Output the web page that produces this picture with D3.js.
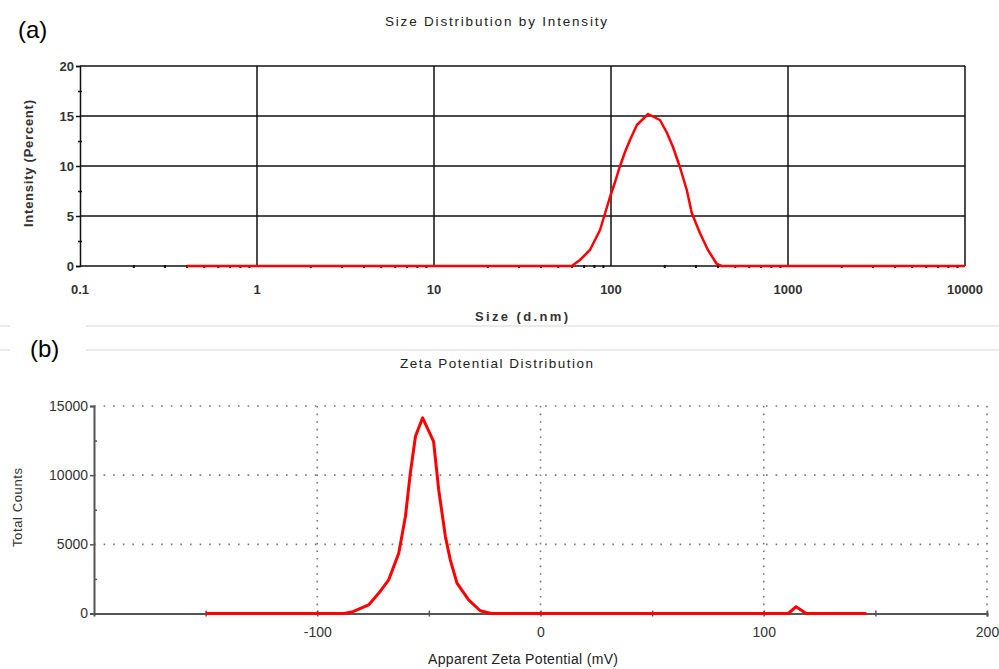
<!DOCTYPE html>
<html>
<head>
<meta charset="utf-8">
<script src="https://cdn.jsdelivr.net/npm/d3@7"></script>
<style>
  body { margin: 0; background: #fff; }
  svg { display: block; }
</style>
</head>
<body>
<div id="display"></div>
<script>
"use strict";

const width = 999;
const height = 669;

// (a) size distribution by intensity
const sizeNm = [0.4, 1, 10, 50, 60, 66.8, 76, 86.7, 98.7, 105, 112, 120, 128, 140, 162, 189, 206, 224, 245, 268, 286, 318, 353, 396, 422, 1000, 10000];
const intensityPct = [0, 0, 0, 0, 0, 0.6, 1.6, 3.6, 6.9, 8.3, 9.9, 11.4, 12.6, 14.1, 15.2, 14.6, 13.4, 11.9, 9.9, 7.6, 5.3, 3.3, 1.6, 0.2, 0, 0, 0];
const sizeTicks = [0.1, 1, 10, 100, 1000, 10000];
const intensityTicks = [0, 5, 10, 15, 20];

// (b) zeta potential distribution
const zetaMv = [-150, -88, -84, -77, -72.5, -68, -63.5, -60.5, -58.3, -56, -52.8, -47.9, -45.6, -42.6, -40.4, -37.4, -32.2, -27, -22, 111, 114.5, 119, 146];
const totalCounts = [0, 0, 130, 616, 1460, 2430, 4360, 7010, 10160, 12810, 14140, 12450, 8950, 5560, 3880, 2190, 980, 200, 0, 0, 490, 0, 0];
const zetaTicks = [-100, 0, 100, 200];
const countTicks = [0, 5000, 10000, 15000];

const svg = d3.select("#display").append("svg")
  .attr("width", width)
  .attr("height", height)
  .style("font-family", "Liberation Sans, Arial, sans-serif");

// faint separators between the two pictures
[326, 350].forEach(function(y) {
  [[0, 10], [86, width]].forEach(function(seg) {
    svg.append("line")
      .attr("x1", seg[0]).attr("x2", seg[1])
      .attr("y1", y).attr("y2", y)
      .attr("stroke", "#e4e4e4")
      .attr("stroke-width", 1.5);
  });
});

/* ---------- panel (a) ---------- */

const xa = d3.scaleLog().domain([0.1, 10000]).range([80, 965]);
const ya = d3.scaleLinear().domain([0, 20]).range([266, 66]);

const pa = svg.append("g");

svg.append("text")
  .attr("x", 18).attr("y", 38)
  .style("font-size", "24px")
  .text("(a)");

pa.append("text")
  .attr("x", 385).attr("y", 26)
  .attr("textLength", 222)
  .style("font-size", "13.5px")
  .attr("fill", "#222")
  .text("Size Distribution by Intensity");

// solid grid
pa.append("g")
  .selectAll("line")
  .data(intensityTicks.slice(1))
  .join("line")
  .attr("x1", xa(0.1)).attr("x2", xa(10000))
  .attr("y1", d => ya(d)).attr("y2", d => ya(d))
  .attr("stroke", "#111").attr("stroke-width", 1.5);

pa.append("g")
  .selectAll("line")
  .data(sizeTicks.slice(1))
  .join("line")
  .attr("x1", d => xa(d)).attr("x2", d => xa(d))
  .attr("y1", ya(0)).attr("y2", ya(20))
  .attr("stroke", "#111").attr("stroke-width", 1.5);

// minor ticks along the size axis (2..9 of every decade)
const minorSizes = [];
for (var e = -1; e < 4; e++) {
  for (var m = 2; m < 10; m++) {
    minorSizes.push(m * Math.pow(10, e));
  }
}

const xAxisA = pa.append("g")
  .attr("transform", "translate(0," + ya(0) + ")")
  .call(d3.axisBottom(xa).tickValues(minorSizes).tickSize(2).tickFormat(""));
xAxisA.select(".domain").remove();
xAxisA.selectAll("line").attr("y1", -1).attr("stroke", "#111").attr("stroke-width", 2);

const yAxisA = pa.append("g")
  .attr("transform", "translate(" + xa(0.1) + ",0)")
  .call(d3.axisLeft(ya).tickValues(d3.range(0, 20.1, 2.5)).tickSize(4)
    .tickFormat(d => d % 5 === 0 ? d : ""));
yAxisA.select(".domain").attr("stroke", "#111").attr("stroke-width", 1.5);
yAxisA.selectAll("line").attr("stroke", "#111").attr("stroke-width", 1.5)
  .attr("x2", d => d % 5 === 0 ? -4 : -2)
  .attr("x1", d => d % 5 === 0 ? 0 : 2);
yAxisA.selectAll("text")
  .attr("x", -6)
  .style("font-size", "13px")
  .style("font-weight", "bold")
  .attr("fill", "#333");

pa.append("line")
  .attr("x1", xa(0.1)).attr("x2", xa(10000))
  .attr("y1", ya(0)).attr("y2", ya(0))
  .attr("stroke", "#111").attr("stroke-width", 1.5);

pa.append("g")
  .selectAll("text")
  .data(sizeTicks)
  .join("text")
  .attr("x", d => xa(d)).attr("y", 294)
  .attr("text-anchor", "middle")
  .style("font-size", "13px")
  .style("font-weight", "bold")
  .attr("fill", "#333")
  .text(d => d < 1 ? "0.1" : d3.format("d")(d));

pa.append("text")
  .attr("x", 475).attr("y", 321)
  .attr("textLength", 93)
  .style("font-size", "13px")
  .style("font-weight", "bold")
  .attr("fill", "#333")
  .text("Size (d.nm)");

pa.append("text")
  .attr("transform", "translate(33,227) rotate(-90)")
  .attr("textLength", 127)
  .style("font-size", "13px")
  .style("font-weight", "bold")
  .attr("fill", "#333")
  .text("Intensity (Percent)");

const lineA = d3.line()
  .x((d, i) => xa(sizeNm[i]))
  .y(d => ya(d));

pa.append("path")
  .datum(intensityPct)
  .attr("d", lineA)
  .attr("fill", "none")
  .attr("stroke", "#ff0000")
  .attr("stroke-width", 2.5)
  .attr("stroke-linejoin", "round");

/* ---------- panel (b) ---------- */

const xb = d3.scaleLinear().domain([-200, 200]).range([94, 987]);
const yb = d3.scaleLinear().domain([0, 15000]).range([613.5, 406]);

const pb = svg.append("g");

svg.append("text")
  .attr("x", 30).attr("y", 357)
  .style("font-size", "24px")
  .text("(b)");

pb.append("text")
  .attr("x", 400).attr("y", 368)
  .attr("textLength", 193)
  .style("font-size", "13.5px")
  .attr("fill", "#222")
  .text("Zeta Potential Distribution");

// dotted grid
pb.append("g")
  .selectAll("line")
  .data(countTicks.slice(1))
  .join("line")
  .attr("x1", xb(-200)).attr("x2", xb(200))
  .attr("y1", d => yb(d)).attr("y2", d => yb(d))
  .attr("stroke", "#777").attr("stroke-width", 1.6)
  .attr("stroke-dasharray", "1.6,8");

pb.append("g")
  .selectAll("line")
  .data(zetaTicks)
  .join("line")
  .attr("x1", d => xb(d)).attr("x2", d => xb(d))
  .attr("y1", yb(15000)).attr("y2", yb(0))
  .attr("stroke", "#777").attr("stroke-width", 1.6)
  .attr("stroke-dasharray", "1.6,6");

const xAxisB = pb.append("g")
  .attr("transform", "translate(0," + yb(0) + ")")
  .call(d3.axisBottom(xb).tickValues(d3.range(-150, 201, 50)).tickSize(3)
    .tickFormat(d => d % 100 === 0 ? d : ""));
xAxisB.select(".domain").attr("stroke", "#555").attr("stroke-width", 2);
xAxisB.selectAll("line").attr("y1", -3).attr("stroke", "#555").attr("stroke-width", 1.5);
xAxisB.selectAll("text")
  .attr("y", 14)
  .style("font-size", "14px")
  .attr("fill", "#333");

const yAxisB = pb.append("g")
  .attr("transform", "translate(" + xb(-200) + ",0)")
  .call(d3.axisLeft(yb).tickValues(d3.range(0, 15001, 2500)).tickSize(4)
    .tickFormat(d => d % 5000 === 0 ? d : ""));
yAxisB.select(".domain").attr("stroke", "#555").attr("stroke-width", 2);
yAxisB.selectAll("line").attr("stroke", "#555").attr("stroke-width", 1.5)
  .attr("x2", d => d % 5000 === 0 ? -4 : 3);
yAxisB.selectAll("text")
  .attr("x", -6)
  .style("font-size", "14px")
  .attr("fill", "#333");

pb.append("text")
  .attr("x", 428).attr("y", 664)
  .attr("textLength", 190)
  .style("font-size", "14px")
  .attr("fill", "#222")
  .text("Apparent Zeta Potential (mV)");

pb.append("text")
  .attr("transform", "translate(22,547) rotate(-90)")
  .attr("textLength", 79)
  .style("font-size", "13px")
  .attr("fill", "#333")
  .text("Total Counts");

const lineB = d3.line()
  .x((d, i) => xb(zetaMv[i]))
  .y(d => yb(d));

pb.append("path")
  .datum(totalCounts)
  .attr("d", lineB)
  .attr("fill", "none")
  .attr("stroke", "#ff0000")
  .attr("stroke-width", 3)
  .attr("stroke-linejoin", "round");
</script>
</body>
</html>
